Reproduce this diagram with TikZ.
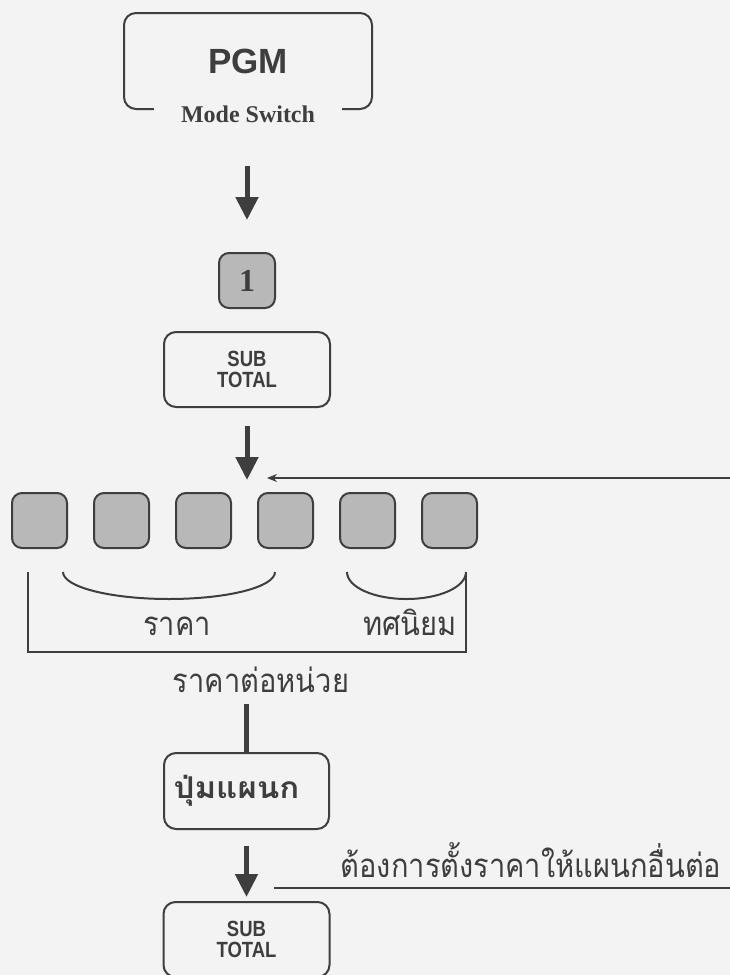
\documentclass[tikz,border=0pt]{standalone}
\usepackage{fontspec}
\setmainfont{Liberation Serif}
\newfontfamily\headfont{Liberation Sans}
\newfontfamily\narrowfont[FakeStretch=0.84]{Liberation Sans}
\newfontfamily\thaifont[Script=Thai, FakeStretch=0.88]{Loma}
\newfontfamily\thaiwide[Script=Thai, FakeStretch=1.1]{Loma}
\usepackage{tikz}
\usetikzlibrary{positioning, arrows.meta, calc}
\definecolor{inkgray}{RGB}{62, 62, 62}
\definecolor{keygray}{RGB}{184, 184, 184}
\definecolor{paper}{RGB}{243, 243, 243}

\begin{document}
\begin{tikzpicture}[x=1pt, y=-1pt, >={Triangle[length=23pt, width=22pt]},
    frame/.style={draw=inkgray, line width=2pt, rounded corners=12pt, text=inkgray},
    keycap/.style={draw=inkgray, line width=2pt, rounded corners=10pt, fill=keygray,
        minimum width=55pt, minimum height=55pt, text=inkgray},
    bigarrow/.style={->, draw=inkgray, line width=5pt},
    bigline/.style={draw=inkgray, line width=5pt},
    thinarrow/.style={-{Stealth[length=10pt, width=8pt]}, draw=inkgray, line width=1.5pt},
    bracket/.style={draw=inkgray, line width=2pt},
    thaitext/.style={font=\thaifont\fontsize{33}{33}\selectfont, text=inkgray},
    subtext/.style={align=center, font=\narrowfont\bfseries\fontsize{22}{21}\selectfont}]
\fill[paper] (0,0) rectangle (730,975);
\useasboundingbox (0,0) rectangle (730,975);

% mode switch and first keys
\node[frame, minimum width=248pt, minimum height=96pt,
    font=\headfont\bfseries\fontsize{35}{35}\selectfont] (pgm) at (248,61) {PGM};
\node[fill=paper, inner xsep=27pt, inner ysep=2pt, text=inkgray,
    font=\bfseries\fontsize{24}{24}\selectfont] (mode) at (248,114) {Mode Switch};
\node[keycap, minimum width=56pt, font=\bfseries\fontsize{32}{32}\selectfont] (one) at (247,280.5) {1};
\node[frame, subtext, minimum width=166pt, minimum height=75pt] (subA) at (247,369.5) {SUB\\TOTAL};
\draw[bigarrow, shorten <=41pt, shorten >=32pt] (one.north |- mode.south) -- (one.north);

% price keys
\coordinate (entry) at (247,480);
\coordinate (loopin) at (730,478);
\draw[bigarrow, shorten <=18pt] (subA) -- (entry);
\draw[thinarrow, shorten >=20pt] (loopin) -- (entry |- loopin);
\foreach \i in {1,...,6}
    \node[keycap] (k\i) at ({39.5+82*(\i-1)},520.5) {};

% brackets under the keys
\draw[bracket] (63,572) .. controls (63,587) and (110.5,599) .. (169,599)
    .. controls (227.5,599) and (275,587) .. (275,572);
\draw[bracket] (347,572) .. controls (347,587) and (373.7,599) .. (406.5,599)
    .. controls (439.3,599) and (466,587) .. (466,572);
\draw[bracket] (28,572) -- (28,652) -- (466,652) -- (466,572);
\node[thaitext, anchor=base] (price) at (177,635) {ราคา};
\node[thaitext, anchor=base] (decimal) at (410,635) {ทศนิยม};
\node[thaitext, anchor=base] (unit) at (261,692) {ราคาต่อหน่วย};

% department key
\node[frame, minimum width=165pt, minimum height=76pt,
    font=\thaiwide\bfseries\fontsize{30}{30}\selectfont] (dept) at (246.5,791) {ปุ่มแผนก\hspace*{20pt}};
\draw[bigline, shorten <=8pt] (dept.north |- unit.south) -- (dept.north);
\node[frame, subtext, minimum width=166pt, minimum height=75pt] (subB) at (246.5,939.5) {SUB\\TOTAL};
\draw[bigarrow, shorten <=16pt, shorten >=4pt] (dept) -- (subB);

% next department
\node[thaitext, anchor=base] (again) at (531,877) {ต้องการตั้งราคาให้แผนกอื่นต่อ};
\coordinate (backA) at (274,888);
\coordinate (backB) at (730,888);
\draw[bracket] (backA) -- (backB);
\end{tikzpicture}
\end{document}
